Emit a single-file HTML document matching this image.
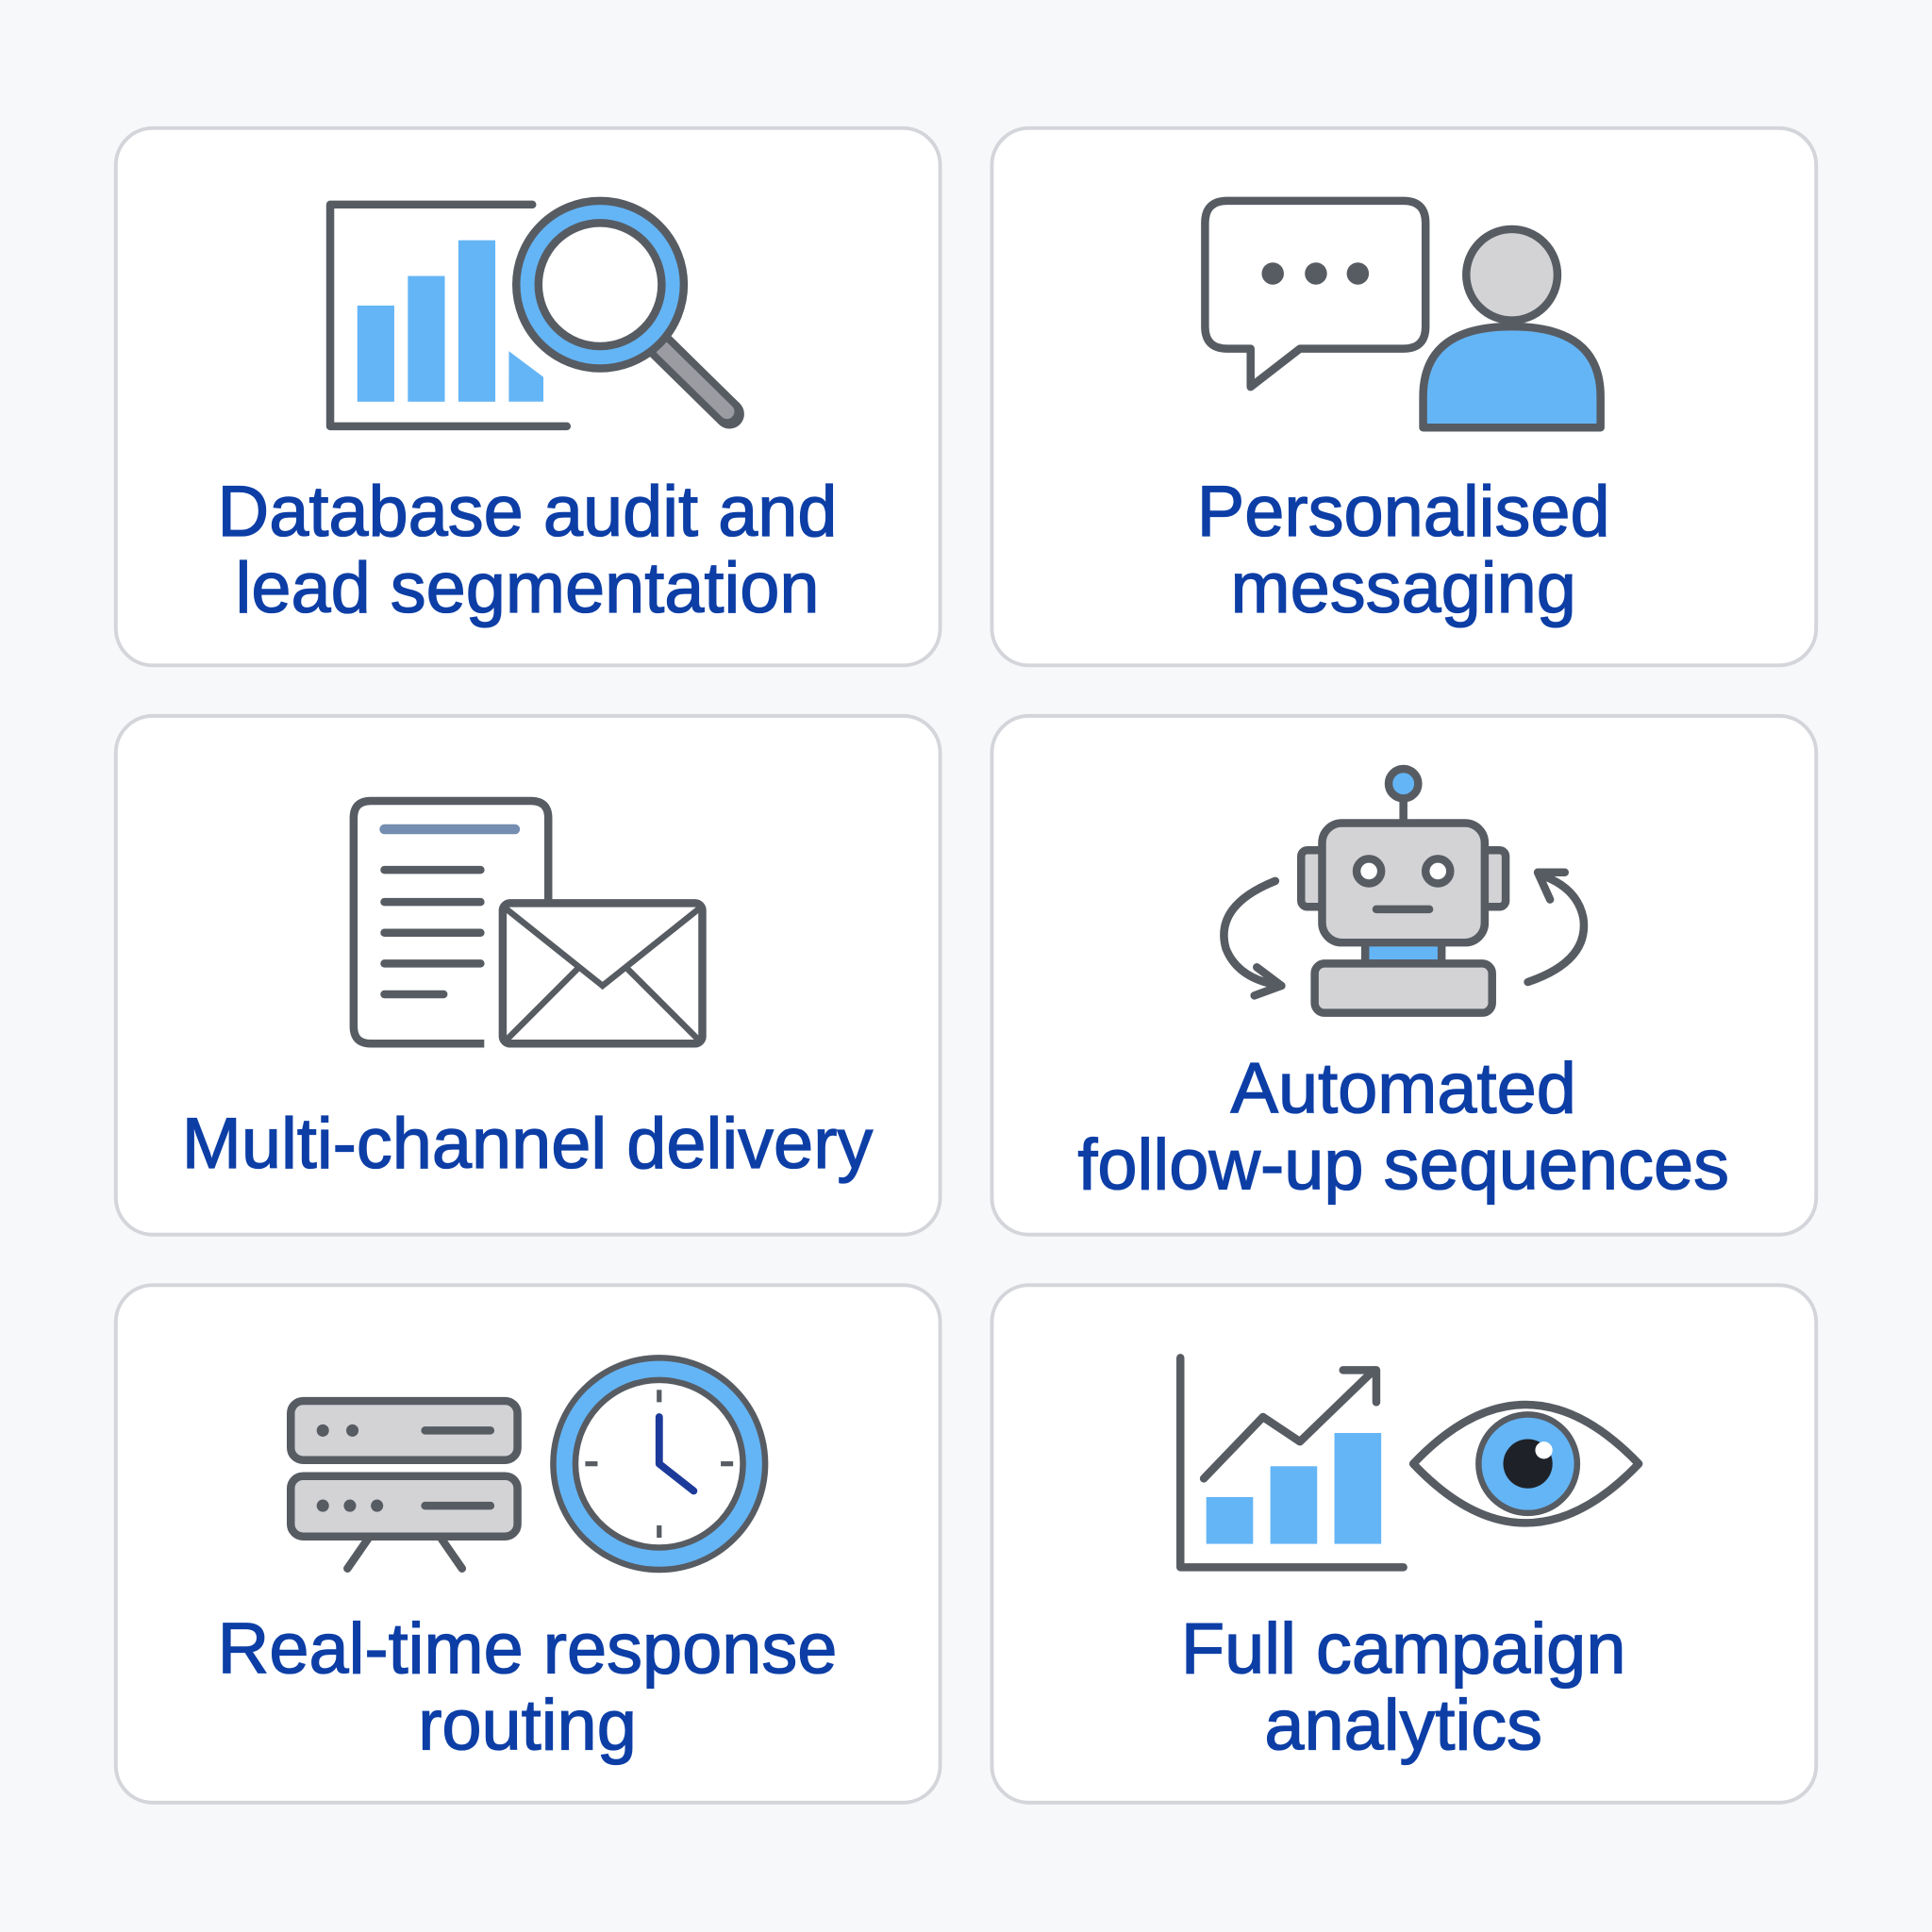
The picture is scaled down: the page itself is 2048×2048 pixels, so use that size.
<!DOCTYPE html>
<html><head><meta charset="utf-8"><style>
html,body{margin:0;padding:0;background:#f7f8fa;}
svg{display:block}
text{font-family:"Liberation Sans",sans-serif;font-size:58px;fill:#0d3ea6;stroke:#0d3ea6;stroke-width:1px;text-anchor:middle}
</style></head><body>
<svg width="2048" height="2048" viewBox="0 0 1568 1568" xmlns="http://www.w3.org/2000/svg">
<rect width="1568" height="1568" fill="#f7f8fa"/>
<g fill="#fff" stroke="#d3d5da" stroke-width="3">
<rect x="94" y="104" width="669" height="436" rx="30"/>
<rect x="805" y="104" width="669" height="436" rx="30"/>
<rect x="94" y="581" width="669" height="421" rx="30"/>
<rect x="805" y="581" width="669" height="421" rx="30"/>
<rect x="94" y="1043" width="669" height="420" rx="30"/>
<rect x="805" y="1043" width="669" height="420" rx="30"/>
</g>
<g stroke="#575c63" stroke-width="6.5" fill="none" stroke-linejoin="round" stroke-linecap="round">
<path d="M432 166 H268 V346 H460"/>
</g>
<g fill="#64b5f6">
<rect x="290" y="248" width="30" height="78"/><rect x="331" y="224" width="30" height="102"/>
<rect x="372" y="195" width="30" height="131"/><path d="M413 285 L441 306 V326 H413Z"/>
</g>
<line x1="535" y1="280" x2="592" y2="336" stroke="#575c63" stroke-width="24" stroke-linecap="round"/>
<line x1="538" y1="283" x2="590" y2="334" stroke="#9a9ca2" stroke-width="12" stroke-linecap="round"/>
<circle cx="487" cy="231" r="68" fill="#64b5f6" stroke="#575c63" stroke-width="6.5"/>
<circle cx="487" cy="231" r="50" fill="#fff" stroke="#575c63" stroke-width="6.5"/>
<path d="M996 163 H1139 Q1157 163 1157 181 V265 Q1157 283 1139 283 H1055 L1015 314 V283 H996 Q978 283 978 265 V181 Q978 163 996 163Z" fill="#fff" stroke="#575c63" stroke-width="6.5" stroke-linejoin="round"/>
<g fill="#575c63"><circle cx="1033" cy="222" r="9"/><circle cx="1068" cy="222" r="9"/><circle cx="1102" cy="222" r="9"/></g>
<circle cx="1227" cy="223" r="37" fill="#d3d3d6" stroke="#575c63" stroke-width="6.5"/>
<path d="M1155 347 V322 Q1155 265 1227 265 Q1299 265 1299 322 V347Z" fill="#64b5f6" stroke="#575c63" stroke-width="6.5" stroke-linejoin="round"/>
<path d="M393 847 H301 Q287 847 287 833 V664 Q287 650 301 650 H431 Q445 650 445 664 V733" fill="#fff" stroke="#575c63" stroke-width="6.5"/>
<line x1="312" y1="673" x2="418" y2="673" stroke="#3a5d90" stroke-width="8" stroke-linecap="round" opacity="0.7"/>
<g stroke="#575c63" stroke-width="6.5" stroke-linecap="round">
<line x1="312" y1="706" x2="390" y2="706"/><line x1="312" y1="732" x2="390" y2="732"/>
<line x1="312" y1="757" x2="390" y2="757"/><line x1="312" y1="782" x2="390" y2="782"/><line x1="312" y1="807" x2="360" y2="807"/></g>
<rect x="408" y="733" width="162" height="114" rx="6" fill="#fff" stroke="#575c63" stroke-width="6.5"/>
<path d="M410 737 L489 800 L568 737 M410 845 L470 785 M568 845 L508 785" fill="none" stroke="#575c63" stroke-width="5"/>
<g stroke="#575c63" stroke-width="6.5" stroke-linejoin="round">
<line x1="1139" y1="648" x2="1139" y2="668"/>
<circle cx="1139" cy="636" r="12" fill="#64b5f6"/>
<rect x="1056" y="690" width="20" height="46" rx="5" fill="#d3d3d6"/>
<rect x="1202" y="690" width="20" height="46" rx="5" fill="#d3d3d6"/>
<rect x="1073" y="668" width="132" height="97" rx="16" fill="#d3d3d6"/>
<rect x="1108" y="765" width="62" height="17" fill="#64b5f6"/>
<rect x="1067" y="782" width="144" height="40" rx="8" fill="#d3d3d6"/>
<circle cx="1111" cy="707" r="10" fill="#fff"/><circle cx="1167" cy="707" r="10" fill="#fff"/>
<line x1="1117" y1="738" x2="1160" y2="738" stroke-linecap="round"/>
<path d="M1035 715 Q985 735 995 770 Q1005 795 1040 800" fill="none" stroke-linecap="round"/>
<path d="M1020 785 L1040 800 L1018 808" fill="none" stroke-linecap="round"/>
<path d="M1240 797 Q1290 780 1285 745 Q1280 720 1250 710" fill="none" stroke-linecap="round"/>
<path d="M1270 708 L1248 708 L1258 730" fill="none" stroke-linecap="round"/>
</g>
<g stroke="#575c63" stroke-width="6.5" stroke-linecap="round">
<line x1="300" y1="1247" x2="282" y2="1273"/><line x1="357" y1="1247" x2="375" y2="1273"/>
<rect x="236" y="1137" width="184" height="48" rx="10" fill="#d3d3d6"/>
<rect x="236" y="1198" width="184" height="49" rx="10" fill="#d3d3d6"/>
<line x1="345" y1="1161" x2="398" y2="1161"/><line x1="345" y1="1222" x2="398" y2="1222"/>
</g>
<g fill="#575c63"><circle cx="262" cy="1161" r="5"/><circle cx="286" cy="1161" r="5"/>
<circle cx="262" cy="1222" r="5"/><circle cx="284" cy="1222" r="5"/><circle cx="306" cy="1222" r="5"/></g>
<circle cx="535" cy="1188" r="86" fill="#64b5f6" stroke="#575c63" stroke-width="5"/>
<circle cx="535" cy="1188" r="68" fill="#fff" stroke="#575c63" stroke-width="5"/>
<g stroke="#575c63" stroke-width="4"><line x1="535" y1="1128" x2="535" y2="1138"/><line x1="535" y1="1238" x2="535" y2="1248"/><line x1="475" y1="1188" x2="485" y2="1188"/><line x1="585" y1="1188" x2="595" y2="1188"/></g>
<path d="M535 1150 V1188 L563 1210" fill="none" stroke="#1c3a9a" stroke-width="6" stroke-linecap="round" stroke-linejoin="round"/>
<g fill="#64b5f6"><rect x="979" y="1215" width="38" height="38"/><rect x="1031" y="1190" width="38" height="63"/><rect x="1083" y="1163" width="38" height="90"/></g>
<g stroke="#575c63" stroke-width="6.5" fill="none" stroke-linecap="round" stroke-linejoin="round">
<path d="M958 1102 V1272 H1139"/>
<path d="M977 1200 L1025 1150 L1055 1170 L1115 1112"/>
<path d="M1090 1112 H1117 V1138"/>
<path d="M1147 1188 Q1238 1092 1330 1188 Q1238 1284 1147 1188Z"/>
</g>
<circle cx="1240" cy="1188" r="40" fill="#64b5f6" stroke="#575c63" stroke-width="5"/>
<circle cx="1240" cy="1188" r="20" fill="#1e2228"/>
<circle cx="1253" cy="1177" r="7" fill="#fff"/>
<text x="428" y="435">Database audit and</text>
<text x="428" y="497">lead segmentation</text>
<text x="1139" y="435">Personalised</text>
<text x="1139" y="497">messaging</text>
<text x="428" y="948">Multi-channel delivery</text>
<text x="1139" y="903">Automated</text>
<text x="1139" y="965">follow-up sequences</text>
<text x="428" y="1358">Real-time response</text>
<text x="428" y="1420">routing</text>
<text x="1139" y="1358">Full campaign</text>
<text x="1139" y="1420">analytics</text>
</svg>
</body></html>
